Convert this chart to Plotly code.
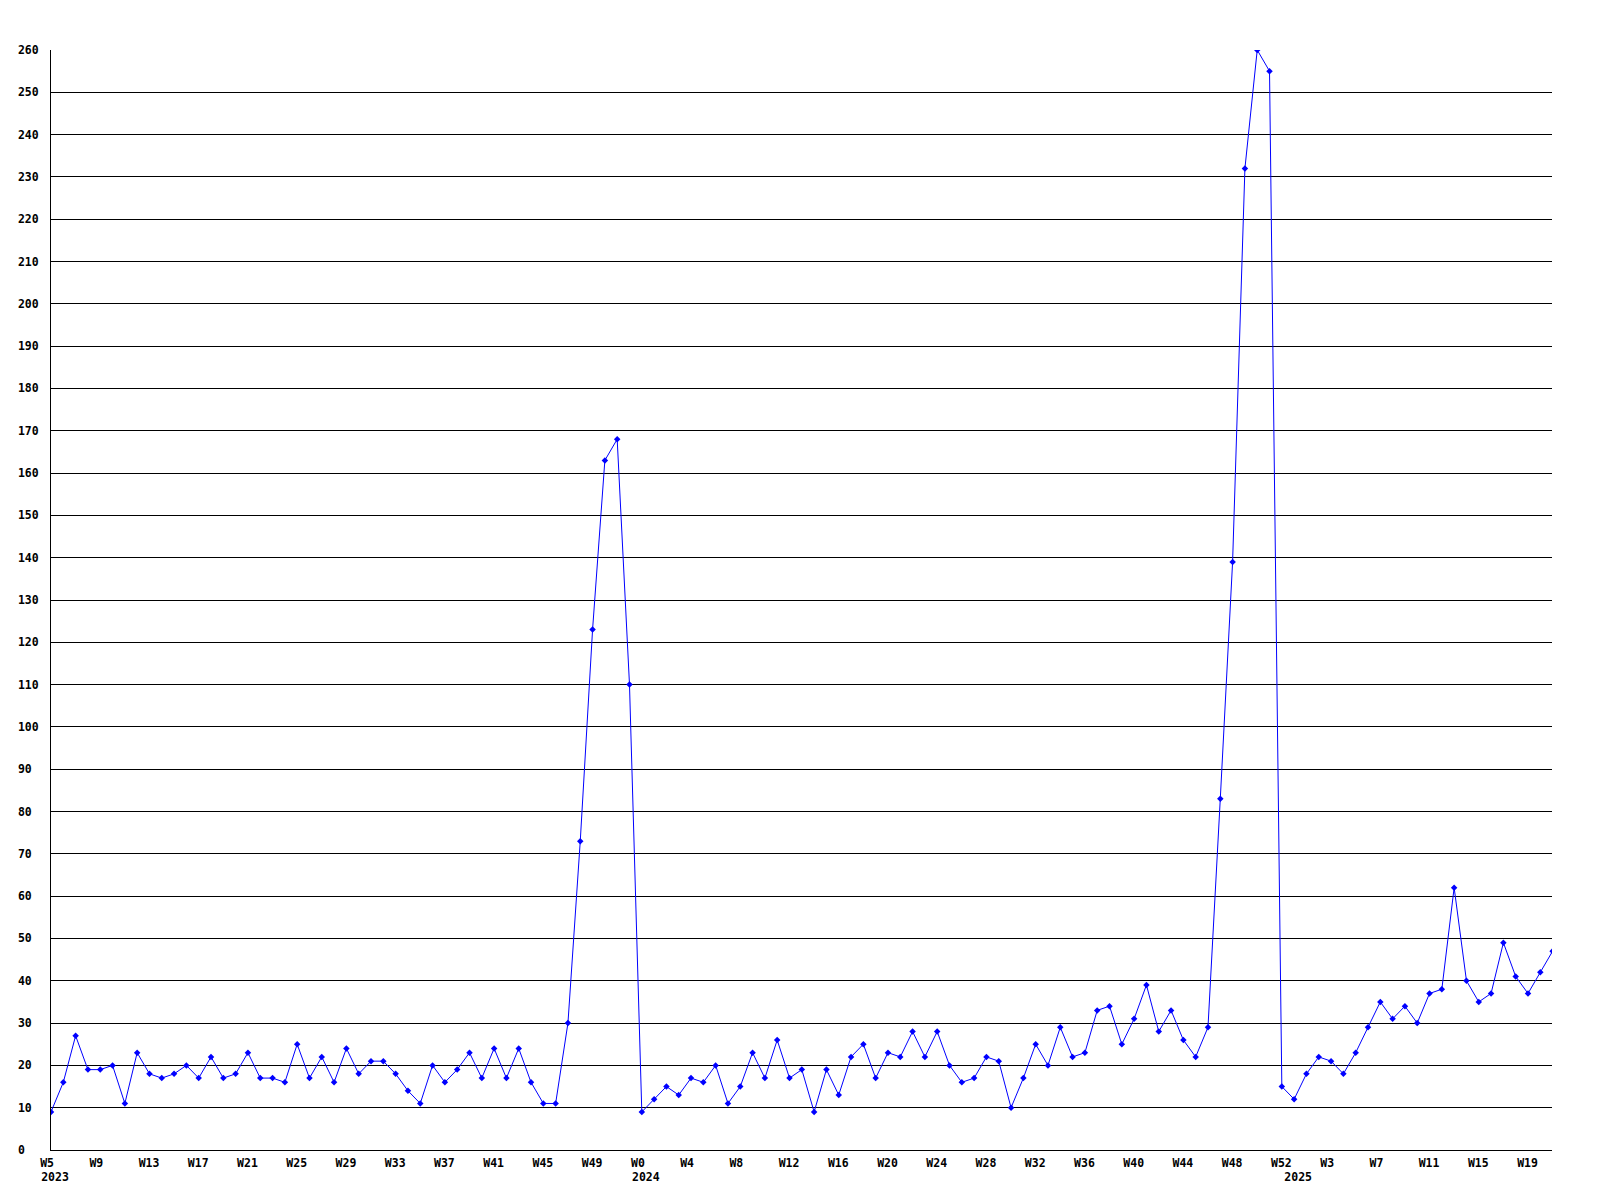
import plotly.graph_objects as go

# Weekly counts, starting at W5 2023 (one value per week)
values_2023 = [9, 16, 27, 19, 19, 20, 11, 23, 18, 17, 18, 20, 17, 22, 17, 18, 23, 17, 17, 16,
               25, 17, 22, 16, 24, 18, 21, 21, 18, 14, 11, 20, 16, 19, 23, 17, 24, 17, 24, 16,
               11, 11, 30, 73, 123, 163, 168, 110]
values_2024 = [9, 12, 15, 13, 17, 16, 20, 11, 15, 23, 17, 26, 17, 19, 9, 19, 13, 22, 25, 17,
               23, 22, 28, 22, 28, 20, 16, 17, 22, 21, 10, 17, 25, 20, 29, 22, 23, 33, 34, 25,
               31, 39, 28, 33, 26, 22, 29, 83, 139, 232, 260, 255, 15]
values_2025 = [12, 18, 22, 21, 18, 23, 29, 35, 31, 34, 30, 37, 38, 62, 40, 35, 37, 49, 41, 37,
               42, 47]

values = values_2023 + values_2024 + values_2025

week_labels = ["W5", "W9", "W13", "W17", "W21", "W25", "W29", "W33", "W37", "W41", "W45", "W49",
               "W0", "W4", "W8", "W12", "W16", "W20", "W24", "W28", "W32", "W36", "W40", "W44",
               "W48", "W52", "W3", "W7", "W11", "W15", "W19"]
year_labels = ["2023", "2024", "2025"]
year_first_week = [0, len(values_2023), len(values_2023) + len(values_2024)]

y_ticks = list(range(0, 261, 10))

NB = "\u00a0"


def pad(s, n):
    return s + NB * (n - len(s))


x = list(range(len(values)))
week_tickvals = list(range(0, 4 * len(week_labels), 4))
x_range = [0, 121.95]

fig = go.Figure()
fig.add_trace(go.Scatter(
    x=x, y=values, mode="lines+markers",
    line=dict(color="#0000ff", width=1),
    marker=dict(symbol="diamond", size=5, color="#0000ff"),
    showlegend=False, hoverinfo="skip",
))
# carrier trace so the year axis is drawn
fig.add_trace(go.Scatter(
    x=year_first_week, y=[None] * len(year_first_week), xaxis="x2", yaxis="y",
    mode="markers", showlegend=False, hoverinfo="skip",
))

font = dict(family="DejaVu Sans Mono", size=11.5, color="black", weight="bold")

fig.update_layout(
    width=1584, height=1184,
    margin=dict(l=43, r=40, t=42, b=42),
    paper_bgcolor="white", plot_bgcolor="white",
    font=font,
    xaxis=dict(
        range=x_range, showgrid=False, zeroline=False, automargin=False,
        showline=True, linecolor="black", linewidth=1,
        tickmode="array", tickvals=week_tickvals,
        ticktext=[pad(s, 4) for s in week_labels],
        ticks="", ticklabelstandoff=2, ticklabelshift=3,
        tickfont=font,
    ),
    xaxis2=dict(
        overlaying="x", side="bottom", anchor="y", automargin=False,
        range=x_range, showgrid=False, zeroline=False, showline=False,
        tickmode="array", tickvals=year_first_week, ticktext=year_labels,
        ticks="", ticklabelstandoff=18, ticklabelshift=4,
        tickfont=font,
    ),
    yaxis=dict(
        range=[0, 260], showgrid=True, gridcolor="black", gridwidth=1,
        zeroline=False, showline=True, linecolor="black", linewidth=1,
        automargin=False,
        tickmode="array", tickvals=y_ticks,
        ticktext=[pad(str(v), 3) for v in y_ticks],
        ticks="", ticklabelstandoff=9,
        tickfont=font,
    ),
)

fig.write_html("out.html")
